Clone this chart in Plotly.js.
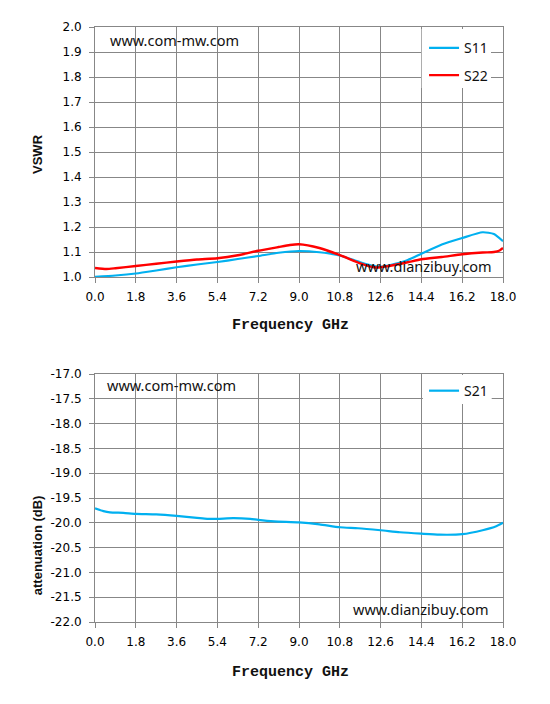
<!DOCTYPE html>
<html><head><meta charset="utf-8">
<script src="https://cdn.plot.ly/plotly-3.0.1.min.js"></script>
<style>html,body{margin:0;padding:0;background:#fff}#chart{width:550px;height:704px}</style>
</head><body><div id="chart"></div>
<script>
// ---- data ----
const freqS11 = [0, 0.9, 1.8, 2.7, 3.6, 4.5, 5.4, 6.3, 7.2, 8.1, 9.0, 9.9, 10.8, 11.7, 12.3, 12.6, 13.2, 13.8, 14.4, 15.3, 16.2, 17.1, 17.6, 18.0];
const s11 = [1.001, 1.006, 1.014, 1.026, 1.039, 1.050, 1.060, 1.072, 1.084, 1.097, 1.104, 1.099, 1.086, 1.059, 1.044, 1.041, 1.052, 1.068, 1.093, 1.130, 1.156, 1.179, 1.172, 1.143];

const freqS22 = [0, 0.5, 0.9, 1.8, 2.7, 3.6, 4.5, 5.4, 6.3, 7.2, 8.1, 8.6, 9.0, 9.9, 10.8, 11.7, 12.3, 12.6, 13.2, 13.8, 14.4, 15.3, 16.2, 17.1, 17.6, 17.85, 18.0];
const s22 = [1.036, 1.032, 1.035, 1.044, 1.053, 1.062, 1.070, 1.075, 1.087, 1.105, 1.120, 1.128, 1.131, 1.116, 1.088, 1.055, 1.039, 1.039, 1.048, 1.059, 1.071, 1.080, 1.091, 1.098, 1.100, 1.106, 1.116];

const freqS21 = [0, 0.37, 0.66, 1.25, 1.8, 2.7, 3.6, 4.5, 4.95, 5.4, 6.1, 6.85, 7.2, 7.9, 9.0, 9.9, 10.8, 11.6, 12.6, 13.45, 14.4, 15.2, 16.2, 17.1, 17.7, 18.0];
const s21 = [-19.71, -19.765, -19.79, -19.80, -19.82, -19.83, -19.86, -19.90, -19.92, -19.92, -19.905, -19.92, -19.94, -19.97, -19.99, -20.03, -20.09, -20.11, -20.15, -20.19, -20.22, -20.24, -20.23, -20.15, -20.07, -20.0];

const xTickVals = [0, 1.8, 3.6, 5.4, 7.2, 9.0, 10.8, 12.6, 14.4, 16.2, 18.0];
const xTickText = ["0.0", "1.8", "3.6", "5.4", "7.2", "9.0", "10.8", "12.6", "14.4", "16.2", "18.0"];
const vswrTickVals = [1.0, 1.1, 1.2, 1.3, 1.4, 1.5, 1.6, 1.7, 1.8, 1.9, 2.0];
const vswrTickText = ["1.0", "1.1", "1.2", "1.3", "1.4", "1.5", "1.6", "1.7", "1.8", "1.9", "2.0"];
const attTickVals = [-22, -21.5, -21, -20.5, -20, -19.5, -19, -18.5, -18, -17.5, -17];
const attTickText = ["-22.0", "-21.5", "-21.0", "-20.5", "-20.0", "-19.5", "-19.0", "-18.5", "-18.0", "-17.5", "-17.0"];

const seriesNames = ["S11", "S22", "S21"];
const xTitle = "Frequency GHz";
const yTitleTop = "VSWR";
const yTitleBottom = "attenuation (dB)";
const watermarkA = "www.com-mw.com";
const watermarkB = "www.dianzibuy.com";

// ---- styling ----
const BLUE = '#00B0F0', RED = '#FF0000', GRID = '#878787';
const tickFont = {family: 'DejaVu Sans', size: 12, color: '#000'};

const traces = [
  {x: freqS11, y: s11, name: seriesNames[0], type: 'scatter', mode: 'lines',
   line: {color: BLUE, width: 2.2, shape: 'spline', smoothing: 0.6},
   xaxis: 'x', yaxis: 'y', legend: 'legend', legendgroup: 'a'},
  {x: freqS22, y: s22, name: seriesNames[1], type: 'scatter', mode: 'lines',
   line: {color: RED, width: 2.4, shape: 'spline', smoothing: 0.6},
   xaxis: 'x', yaxis: 'y', legend: 'legend', legendgroup: 'b'},
  {x: freqS21, y: s21, name: seriesNames[2], type: 'scatter', mode: 'lines',
   line: {color: BLUE, width: 2.2, shape: 'spline', smoothing: 0.6},
   xaxis: 'x2', yaxis: 'y2', legend: 'legend2'}
];

function xAxis(anchor) {
  return {anchor: anchor, domain: [0, 1], range: [0, 18], tickvals: xTickVals, ticktext: xTickText,
    showgrid: true, gridcolor: GRID, gridwidth: 1, showline: true, linecolor: GRID, linewidth: 1, mirror: true,
    ticks: 'outside', ticklen: 5, tickcolor: GRID, tickwidth: 1, tickfont: tickFont, zeroline: false,
    ticklabelstandoff: 4, fixedrange: true};
}
function yAxis(anchor, domain, range, vals, text) {
  return {anchor: anchor, domain: domain, range: range, tickvals: vals, ticktext: text,
    showgrid: true, gridcolor: GRID, gridwidth: 1, showline: true, linecolor: GRID, linewidth: 1, mirror: true,
    ticks: 'outside', ticklen: 5, tickcolor: GRID, tickwidth: 1, tickfont: tickFont, zeroline: false,
    ticklabelstandoff: 5, fixedrange: true};
}

const wmFont = {family: 'Noto Sans', size: 14.5, color: '#111'};
const legFont = {family: 'Noto Sans', size: 14, color: '#111'};

const layout = {
  width: 550, height: 704,
  margin: {l: 95, r: 47, t: 27, b: 82},
  paper_bgcolor: '#fff', plot_bgcolor: '#fff',
  showlegend: true,
  xaxis: xAxis('y'),
  xaxis2: xAxis('y2'),
  yaxis: yAxis('x', [0.5798, 1], [1, 2], vswrTickVals, vswrTickText),
  yaxis2: yAxis('x2', [0, 0.4168], [-22, -17], attTickVals, attTickText),
  legend: {x: 0.8065, y: 0.991, xanchor: 'left', yanchor: 'top', bgcolor: 'rgba(0,0,0,0)',
    borderwidth: 0, font: legFont, itemwidth: 30, tracegroupgap: 6, traceorder: 'grouped'},
  legend2: {x: 0.8065, y: 0.415, xanchor: 'left', yanchor: 'top', bgcolor: 'rgba(0,0,0,0)',
    borderwidth: 0, font: legFont, itemwidth: 30},
  shapes: [
    {type: 'rect', xref: 'paper', yref: 'paper', x0: 0.8007, x1: 0.9706, y0: 0.8975, y1: 0.9966,
     fillcolor: '#fff', line: {width: 0}, layer: 'above'},
    {type: 'rect', xref: 'paper', yref: 'paper', x0: 0.8037, x1: 0.9723, y0: 0.3664, y1: 0.4151,
     fillcolor: '#fff', line: {width: 0}, layer: 'above'}
  ],
  annotations: [
    {text: watermarkA, xref: 'paper', yref: 'paper', x: 0.032, y: 0.978, xanchor: 'left', yanchor: 'middle', showarrow: false, font: wmFont},
    {text: watermarkB, xref: 'paper', yref: 'paper', x: 0.978, y: 0.598, xanchor: 'right', yanchor: 'middle', showarrow: false, font: wmFont},
    {text: watermarkA, xref: 'paper', yref: 'paper', x: 0.0245, y: 0.398, xanchor: 'left', yanchor: 'middle', showarrow: false, font: wmFont},
    {text: watermarkB, xref: 'paper', yref: 'paper', x: 0.971, y: 0.0218, xanchor: 'right', yanchor: 'middle', showarrow: false, font: wmFont},
    {text: xTitle, xref: 'paper', yref: 'paper', x: 0.478, y: 0.499, xanchor: 'center', yanchor: 'middle', showarrow: false,
     font: {family: 'Liberation Mono', size: 15, color: '#111', weight: 'bold'}},
    {text: xTitle, xref: 'paper', yref: 'paper', x: 0.478, y: -0.0857, xanchor: 'center', yanchor: 'middle', showarrow: false,
     font: {family: 'Liberation Mono', size: 15, color: '#111', weight: 'bold'}},
    {text: yTitleTop, xref: 'paper', yref: 'paper', x: -0.1397, y: 0.7866, xanchor: 'center', yanchor: 'middle', showarrow: false, textangle: -90,
     font: {family: 'Liberation Sans', size: 13, color: '#111', weight: 'bold'}},
    {text: yTitleBottom, xref: 'paper', yref: 'paper', x: -0.1422, y: 0.129, xanchor: 'center', yanchor: 'middle', showarrow: false, textangle: -90,
     font: {family: 'Liberation Sans', size: 13, color: '#111', weight: 'bold'}}
  ]
};

Plotly.newPlot('chart', traces, layout, {displayModeBar: false, staticPlot: true});
</script></body></html>
